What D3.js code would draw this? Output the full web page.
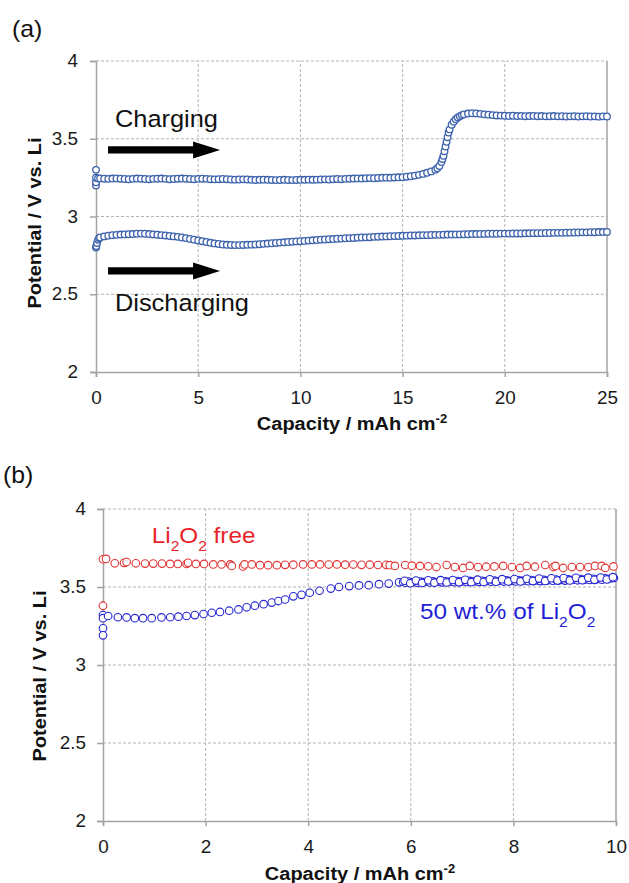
<!DOCTYPE html>
<html>
<head>
<meta charset="utf-8">
<script src="https://cdn.jsdelivr.net/npm/d3@7/dist/d3.min.js"></script>
<style>
  body { margin: 0; background: #fff; }
  svg text { font-family: "Liberation Sans", Arial, Helvetica, sans-serif; }
</style>
</head>
<body>
<svg id="fig" width="629" height="883"></svg>
<script>
// ---------- Panel (a): charge / discharge at 25 mAh cm-2 ----------
const chargeCap = [
  0, 0, 0, 0, 0.1,
  0.2, 0.4, 0.6, 0.8, 1.0, 1.2, 1.4, 1.6, 1.8, 2.0, 2.2, 2.4, 2.6, 2.8, 3.0, 3.2, 3.4, 3.6, 3.8, 4.0, 4.2, 4.4, 4.6, 4.8, 5.0,
  5.2, 5.4, 5.6, 5.8, 6.0, 6.2, 6.4, 6.6, 6.8, 7.0, 7.2, 7.4, 7.6, 7.8, 8.0, 8.2, 8.4, 8.6, 8.8, 9.0, 9.2, 9.4, 9.6, 9.8, 10.0,
  10.2, 10.4, 10.6, 10.8, 11.0, 11.2, 11.4, 11.6, 11.8, 12.0, 12.2, 12.4, 12.6, 12.8, 13.0, 13.2, 13.4, 13.6, 13.8, 14.0, 14.2, 14.4, 14.6, 14.8, 15.0,
  15.2, 15.4, 15.6, 15.8, 16.0, 16.2, 16.4, 16.6,
  16.7, 16.8, 16.9, 16.95, 17.0, 17.05, 17.1, 17.15, 17.2, 17.25, 17.3,
  17.4, 17.5, 17.6, 17.7, 17.8, 17.9, 18.0,
  18.2, 18.4, 18.6, 18.8, 19.0, 19.2, 19.4, 19.6, 19.8, 20.0,
  20.2, 20.4, 20.6, 20.8, 21.0, 21.2, 21.4, 21.6, 21.8, 22.0, 22.2, 22.4, 22.6, 22.8, 23.0, 23.2, 23.4, 23.6, 23.8, 24.0, 24.2, 24.4, 24.6, 24.8, 25.0
];
const chargeV = [
  3.300, 3.200, 3.220, 3.250, 3.245,
  3.245, 3.243, 3.242, 3.244, 3.245, 3.243, 3.241, 3.240, 3.242, 3.244, 3.243, 3.241, 3.240, 3.242, 3.243, 3.244, 3.242, 3.240, 3.241, 3.243, 3.244, 3.243, 3.241, 3.240, 3.242,
  3.243, 3.242, 3.240, 3.239, 3.240, 3.241, 3.240, 3.238, 3.237, 3.238, 3.239, 3.238, 3.236, 3.235, 3.236, 3.237, 3.236, 3.235, 3.234, 3.235, 3.236, 3.235, 3.234, 3.235, 3.236,
  3.236, 3.237, 3.236, 3.237, 3.238, 3.239, 3.238, 3.240, 3.241, 3.240, 3.242, 3.243, 3.244, 3.245, 3.244, 3.246, 3.247, 3.246, 3.248, 3.249, 3.250, 3.249, 3.251, 3.252, 3.253,
  3.256, 3.259, 3.263, 3.268, 3.274, 3.281, 3.290, 3.300,
  3.310, 3.325, 3.350, 3.370, 3.390, 3.420, 3.450, 3.480, 3.510, 3.540, 3.560,
  3.590, 3.610, 3.625, 3.637, 3.645, 3.652, 3.657,
  3.662, 3.664, 3.663, 3.660, 3.657, 3.655, 3.652, 3.650, 3.649, 3.648,
  3.647, 3.648, 3.646, 3.647, 3.645, 3.646, 3.647, 3.645, 3.646, 3.644, 3.645, 3.646, 3.644, 3.645, 3.643, 3.644, 3.645, 3.643, 3.644, 3.645, 3.643, 3.644, 3.642, 3.644, 3.643
];
const dischargeCap = [
  0, 0.02, 0.05, 0.1, 0.15,
  0.2, 0.4, 0.6, 0.8, 1.0, 1.2, 1.4, 1.6, 1.8, 2.0, 2.2, 2.4, 2.6, 2.8, 3.0, 3.2, 3.4, 3.6, 3.8, 4.0, 4.2, 4.4, 4.6, 4.8, 5.0,
  5.2, 5.4, 5.6, 5.8, 6.0, 6.2, 6.4, 6.6, 6.8, 7.0, 7.2, 7.4, 7.6, 7.8, 8.0, 8.2, 8.4, 8.6, 8.8, 9.0, 9.2, 9.4, 9.6, 9.8, 10.0,
  10.2, 10.4, 10.6, 10.8, 11.0, 11.2, 11.4, 11.6, 11.8, 12.0, 12.2, 12.4, 12.6, 12.8, 13.0, 13.2, 13.4, 13.6, 13.8, 14.0, 14.2, 14.4, 14.6, 14.8, 15.0,
  15.2, 15.4, 15.6, 15.8, 16.0, 16.2, 16.4, 16.6, 16.8, 17.0, 17.2, 17.4, 17.6, 17.8, 18.0, 18.2, 18.4, 18.6, 18.8, 19.0, 19.2, 19.4, 19.6, 19.8, 20.0,
  20.2, 20.4, 20.6, 20.8, 21.0, 21.2, 21.4, 21.6, 21.8, 22.0, 22.2, 22.4, 22.6, 22.8, 23.0, 23.2, 23.4, 23.6, 23.8, 24.0, 24.2, 24.4, 24.6, 24.8, 25.0
];
const dischargeV = [
  2.800, 2.810, 2.830, 2.850, 2.860,
  2.865, 2.872, 2.877, 2.880, 2.882, 2.884, 2.885, 2.886, 2.887, 2.889, 2.890, 2.889, 2.887, 2.885, 2.883, 2.880, 2.878, 2.875, 2.872, 2.869, 2.865, 2.861, 2.856, 2.851, 2.846,
  2.841, 2.836, 2.831, 2.827, 2.823, 2.820, 2.818, 2.817, 2.816, 2.816, 2.817, 2.818, 2.819, 2.820, 2.822, 2.824, 2.826, 2.828, 2.830, 2.832, 2.834, 2.836, 2.838, 2.840, 2.841,
  2.843, 2.845, 2.847, 2.849, 2.851, 2.852, 2.854, 2.855, 2.857, 2.858, 2.860, 2.861, 2.862, 2.864, 2.865, 2.866, 2.867, 2.869, 2.870, 2.871, 2.872, 2.873, 2.874, 2.875, 2.876,
  2.877, 2.878, 2.878, 2.879, 2.880, 2.880, 2.881, 2.882, 2.882, 2.883, 2.884, 2.884, 2.885, 2.885, 2.886, 2.886, 2.887, 2.887, 2.888, 2.888, 2.889, 2.889, 2.889, 2.890, 2.890,
  2.890, 2.891, 2.891, 2.891, 2.892, 2.892, 2.893, 2.893, 2.893, 2.894, 2.894, 2.895, 2.895, 2.895, 2.896, 2.896, 2.897, 2.897, 2.898, 2.898, 2.899, 2.899, 2.900, 2.900, 2.901
];

// ---------- Panel (b): charging with and without Li2O2 ----------
const freeCap = [
  0, 0, 0.06, 0.23, 0.41, 0.46, 0.64, 0.82, 0.98, 1.15,
  1.31, 1.46, 1.63, 1.66, 1.81, 1.97, 2.15, 2.31, 2.48, 2.51,
  2.73, 2.76, 2.90, 3.06, 3.22, 3.39, 3.55, 3.71, 3.90, 4.07,
  4.23, 4.40, 4.56, 4.72, 4.88, 5.04, 5.20, 5.36, 5.52, 5.59,
  5.69, 5.89, 6.02, 6.18, 6.34, 6.50, 6.70, 6.86, 7.02, 7.15,
  7.31, 7.47, 7.63, 7.80, 7.97, 8.13, 8.26, 8.42, 8.62, 8.78,
  8.82, 8.97, 9.14, 9.30, 9.46, 9.59, 9.72, 9.79, 9.95
];
const freeV = [
  3.380, 3.678, 3.680, 3.652, 3.655, 3.660, 3.652, 3.650, 3.650, 3.650,
  3.648, 3.648, 3.648, 3.655, 3.648, 3.648, 3.645, 3.645, 3.645, 3.635,
  3.632, 3.645, 3.645, 3.640, 3.640, 3.640, 3.642, 3.643, 3.645, 3.645,
  3.645, 3.644, 3.645, 3.643, 3.644, 3.642, 3.643, 3.641, 3.642, 3.640,
  3.635, 3.641, 3.637, 3.635, 3.633, 3.628, 3.641, 3.628, 3.622, 3.635,
  3.628, 3.630, 3.632, 3.635, 3.628, 3.622, 3.635, 3.630, 3.641, 3.628,
  3.635, 3.622, 3.628, 3.628, 3.628, 3.635, 3.635, 3.622, 3.632
];
const loadedCap = [
  0, 0, 0, 0, 0.10, 0.29, 0.46, 0.62, 0.78, 0.95,
  1.14, 1.31, 1.47, 1.63, 1.79, 1.96, 2.12, 2.28, 2.46, 2.64,
  2.80, 2.96, 3.13, 3.29, 3.42, 3.55, 3.71, 3.87, 4.03, 4.22,
  4.44, 4.60, 4.80, 4.99, 5.18, 5.38, 5.57, 5.77,
  5.85, 5.90, 5.96, 6.02, 6.08, 6.13, 6.19, 6.25, 6.31, 6.37,
  6.43, 6.49, 6.55, 6.61, 6.67, 6.73, 6.79, 6.85, 6.91, 6.97,
  7.03, 7.09, 7.15, 7.21, 7.27, 7.33, 7.39, 7.45, 7.51, 7.57,
  7.63, 7.69, 7.75, 7.81, 7.87, 7.93, 7.99, 8.05, 8.11, 8.17,
  8.23, 8.29, 8.35, 8.41, 8.47, 8.53, 8.59, 8.65, 8.71, 8.77,
  8.83, 8.89, 8.95, 9.01, 9.07, 9.13, 9.19, 9.25, 9.31, 9.37,
  9.43, 9.49, 9.55, 9.61, 9.67, 9.73, 9.79, 9.85, 9.91, 9.96,
  5.88, 5.99, 6.10, 6.22, 6.34, 6.46, 6.58, 6.70, 6.82, 6.94,
  7.06, 7.18, 7.30, 7.42, 7.54, 7.66, 7.78, 7.90, 8.02, 8.14,
  8.26, 8.38, 8.50, 8.62, 8.74, 8.86, 8.98, 9.10, 9.22, 9.34,
  9.46, 9.58, 9.70, 9.82, 9.94
];
const loadedV = [
  3.320, 3.300, 3.235, 3.190, 3.314, 3.306, 3.305, 3.300, 3.300, 3.300,
  3.305, 3.306, 3.310, 3.314, 3.320, 3.327, 3.335, 3.340, 3.348, 3.356,
  3.370, 3.380, 3.390, 3.400, 3.410, 3.420, 3.440, 3.450, 3.463, 3.476,
  3.490, 3.500, 3.506, 3.510, 3.512, 3.518, 3.522, 3.530,
  3.532, 3.528, 3.535, 3.530, 3.533, 3.527, 3.535, 3.531, 3.534, 3.529,
  3.536, 3.532, 3.535, 3.530, 3.537, 3.533, 3.536, 3.531, 3.538, 3.534,
  3.537, 3.532, 3.539, 3.535, 3.538, 3.533, 3.540, 3.536, 3.539, 3.534,
  3.541, 3.537, 3.540, 3.535, 3.542, 3.538, 3.541, 3.536, 3.543, 3.539,
  3.542, 3.537, 3.545, 3.540, 3.543, 3.538, 3.546, 3.541, 3.545, 3.540,
  3.548, 3.543, 3.546, 3.541, 3.549, 3.545, 3.548, 3.543, 3.551, 3.546,
  3.550, 3.545, 3.553, 3.548, 3.552, 3.547, 3.555, 3.551, 3.556, 3.558,
  3.540, 3.524, 3.541, 3.526, 3.543, 3.527, 3.544, 3.529, 3.545, 3.530,
  3.546, 3.531, 3.547, 3.532, 3.549, 3.534, 3.550, 3.535, 3.551, 3.536,
  3.553, 3.538, 3.554, 3.539, 3.556, 3.541, 3.557, 3.542, 3.559, 3.544,
  3.560, 3.546, 3.561, 3.548, 3.563
];

// ---------- axis ticks ----------
const potentialTicks = [2, 2.5, 3, 3.5, 4];
const potentialTickLabels = ["2", "2.5", "3", "3.5", "4"];
const capTicksA = [0, 5, 10, 15, 20, 25];
const capTickLabelsA = ["0", "5", "10", "15", "20", "25"];
const capTicksB = [0, 2, 4, 6, 8, 10];
const capTickLabelsB = ["0", "2", "4", "6", "8", "10"];

const svg = d3.select("#fig");
const STRETCH = 1.08;   // slightly wide lettering
const AXIS_GREY = "#a3a3a3";
const GRID_GREY = "#b3b3b3";

function stretchText(sel) {
  sel.each(function () {
    const t = d3.select(this);
    const x = +t.attr("x") || 0;
    const prev = t.attr("transform") || "";
    t.attr("transform", `${prev} translate(${x * (1 - STRETCH)},0) scale(${STRETCH},1)`);
  });
}

function zip(xs, ys) {
  const n = Math.min(xs.length, ys.length);
  return d3.range(n).map(i => ({ c: xs[i], v: ys[i] }));
}

function drawPanel(p) {
  const x = d3.scaleLinear().domain([0, p.xMax]).range([p.left, p.right]);
  const y = d3.scaleLinear().domain([2, 4]).range([p.bottom, p.top]);
  const g = svg.append("g");

  // dashed grid
  g.append("g").selectAll("line")
    .data(p.xTicks.filter(d => d > 0 && d < p.xMax))
    .join("line")
    .attr("x1", d => x(d)).attr("x2", d => x(d))
    .attr("y1", y(2)).attr("y2", y(4))
    .attr("stroke", GRID_GREY).attr("stroke-width", 1).attr("stroke-dasharray", "3,2");
  g.append("g").selectAll("line")
    .data(potentialTicks.filter(d => d > 2))
    .join("line")
    .attr("x1", x(0)).attr("x2", x(p.xMax))
    .attr("y1", d => y(d)).attr("y2", d => y(d))
    .attr("stroke", GRID_GREY).attr("stroke-width", 1).attr("stroke-dasharray", "3,2");
  // right frame
  g.append("line")
    .attr("x1", x(p.xMax)).attr("x2", x(p.xMax))
    .attr("y1", y(2)).attr("y2", y(4))
    .attr("stroke", AXIS_GREY).attr("stroke-width", 1.5);

  // axes
  const xAxis = d3.axisBottom(x).tickValues(p.xTicks)
    .tickFormat((d, i) => p.xTickLabels[i]).tickSize(5).tickPadding(15);
  const yAxis = d3.axisLeft(y).tickValues(potentialTicks)
    .tickFormat((d, i) => potentialTickLabels[i]).tickSize(6).tickPadding(p.yPad);
  const gx = g.append("g").attr("transform", `translate(0,${y(2)})`).call(xAxis);
  const gy = g.append("g").attr("transform", `translate(${x(0)},0)`).call(yAxis);
  [gx, gy].forEach(a => {
    a.select(".domain").attr("stroke", AXIS_GREY).attr("stroke-width", 1.5);
    a.selectAll(".tick line").attr("stroke", AXIS_GREY).attr("stroke-width", 1.5);
    a.selectAll(".tick text").attr("fill", "#1a1a1a")
      .style("font-family", '"Liberation Sans", Arial, sans-serif')
      .style("font-size", "17.5px");
    stretchText(a.selectAll(".tick text"));
  });

  // axis titles
  const yt = g.append("text")
    .attr("transform", `translate(${p.yTitleX},${p.yTitleY}) rotate(-90)`)
    .attr("text-anchor", "middle")
    .attr("font-weight", "bold").attr("font-size", "18.5px").attr("fill", "#111")
    .text("Potential / V vs. Li");
  stretchText(yt);
  const xt = g.append("text")
    .attr("transform", `translate(${p.xTitleX},${p.xTitleY})`)
    .attr("text-anchor", "middle")
    .attr("font-weight", "bold").attr("font-size", "18.5px").attr("fill", "#111");
  xt.append("tspan").text("Capacity / mAh cm");
  xt.append("tspan").attr("dy", -7).attr("font-size", "12px").text("-2");
  stretchText(xt);

  // panel tag
  const tag = svg.append("text")
    .attr("x", p.tagX).attr("y", p.tagY)
    .attr("font-size", "23px").attr("fill", "#111")
    .text(p.tag);
  stretchText(tag);

  return { g, x, y };
}

function drawSeries(panel, data, color, r, sw) {
  panel.g.append("g").selectAll("circle")
    .data(data)
    .join("circle")
    .attr("cx", d => panel.x(d.c))
    .attr("cy", d => panel.y(d.v))
    .attr("r", r)
    .attr("fill", "#fff")
    .attr("stroke", color)
    .attr("stroke-width", sw);
}

function arrow(panel, c0, c1, cHead, v) {
  const x = panel.x, y = panel.y;
  const yc = y(v), hs = 3.6, hh = 8.5;
  const pts = [
    [x(c0), yc - hs], [x(cHead), yc - hs], [x(cHead), yc - hh], [x(c1), yc],
    [x(cHead), yc + hh], [x(cHead), yc + hs], [x(c0), yc + hs]
  ];
  panel.g.append("path")
    .attr("d", d3.line()(pts) + "Z")
    .attr("fill", "#000");
}

// text with optional subscript pieces: [string, isSubscript]
function label(panel, c, v, parts, color, size) {
  const t = panel.g.append("text")
    .attr("x", panel.x(c)).attr("y", panel.y(v))
    .attr("font-size", size + "px").attr("fill", color);
  let down = false;
  parts.forEach(([s, sub]) => {
    const ts = t.append("tspan").text(s);
    if (sub && !down) { ts.attr("dy", 8).attr("font-size", (size * 0.64) + "px"); down = true; }
    else if (sub) { ts.attr("font-size", (size * 0.64) + "px"); }
    else if (down) { ts.attr("dy", -8); down = false; }
  });
  stretchText(t);
}

// ---------- panel (a) ----------
const pa = drawPanel({
  xMax: 25, left: 96, right: 607, top: 61, bottom: 372,
  xTicks: capTicksA, xTickLabels: capTickLabelsA, yPad: 12,
  yTitleX: 41, yTitleY: 223, xTitleX: 352, xTitleY: 430,
  tag: "(a)", tagX: 12, tagY: 37
});
drawSeries(pa, zip(chargeCap, chargeV), "#3d62ac", 3.3, 1.3);
drawSeries(pa, zip(dischargeCap, dischargeV), "#3d62ac", 3.3, 1.3);
arrow(pa, 0.59, 6.07, 4.75, 3.428);
arrow(pa, 0.59, 6.07, 4.75, 2.65);
label(pa, 0.93, 3.574, [["Charging"]], "#111", 23.5);
label(pa, 0.93, 2.392, [["Discharging"]], "#111", 23.5);

// ---------- panel (b) ----------
const pb = drawPanel({
  xMax: 10, left: 103, right: 616, top: 509, bottom: 821,
  xTicks: capTicksB, xTickLabels: capTickLabelsB, yPad: 11,
  yTitleX: 46, yTitleY: 676, xTitleX: 360, xTitleY: 880,
  tag: "(b)", tagX: 3, tagY: 483
});
drawSeries(pb, zip(freeCap, freeV), "#e23434", 3.8, 1.1);
drawSeries(pb, zip(loadedCap, loadedV), "#2626d4", 3.8, 1.1);
label(pb, 0.95, 3.784, [["Li"], ["2", true], ["O"], ["2", true], [" free"]], "#e8232a", 22.5);
label(pb, 6.18, 3.295, [["50 wt.% of Li"], ["2", true], ["O"], ["2", true]], "#1f1fd6", 22.5);
</script>
</body>
</html>
